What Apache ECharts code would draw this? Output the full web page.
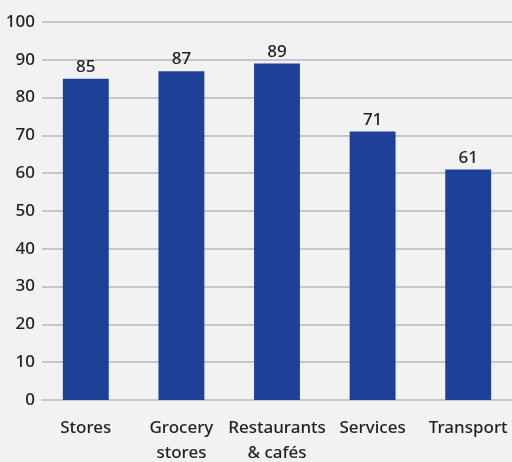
<!DOCTYPE html>
<html><head><meta charset="utf-8">
<script src="https://cdn.jsdelivr.net/npm/echarts@6/dist/echarts.min.js"></script>
<style>html,body{margin:0;padding:0;background:#f2f2f2;}#c{width:512px;height:462px;}</style>
</head><body><div id="c"></div>
<script>
const categories = ["Stores", "Grocery\nstores", "Restaurants\n& cafés", "Services", "Transport"];
const values = [85, 87, 89, 71, 61];
const yTicks = [0, 10, 20, 30, 40, 50, 60, 70, 80, 90, 100];

const chart = echarts.init(document.getElementById('c'), null, {renderer: 'canvas'});
const font = "'Noto Sans', sans-serif";
const yMin = yTicks[0], yMax = yTicks[yTicks.length - 1];
chart.setOption({
  backgroundColor: '#f2f2f2',
  animation: false,
  grid: [
    {left: 42, right: 0, top: 22, bottom: 62, containLabel: false, outerBoundsMode: 'none'},
    {left: 38, right: -4, top: 22, bottom: 62, containLabel: false, outerBoundsMode: 'none'}
  ],
  xAxis: [{
    gridIndex: 0, type: 'category', data: categories,
    axisLine: {lineStyle: {color: '#c6c6c6', width: 2}},
    axisTick: {show: false}, axisLabel: {show: false}
  }, {
    gridIndex: 1, type: 'category', data: categories,
    axisLine: {show: false}, axisTick: {show: false},
    axisLabel: {color: '#222', fontSize: 17, fontWeight: 500, fontFamily: font, lineHeight: 25, margin: 16, interval: 0}
  }],
  yAxis: [{
    gridIndex: 0, type: 'value', min: yMin, max: yMax, interval: 10,
    axisLine: {show: false}, axisTick: {show: false},
    splitLine: {lineStyle: {color: '#c6c6c6', width: 2}},
    axisLabel: {color: '#222', fontSize: 17, fontWeight: 500, fontFamily: font, margin: 7}
  }, {
    gridIndex: 1, type: 'value', min: yMin, max: yMax, interval: 10, show: false,
    splitLine: {show: false}
  }],
  series: [{
    type: 'bar', data: values, barWidth: '48%', xAxisIndex: 1, yAxisIndex: 1,
    itemStyle: {color: '#1f4097'},
    label: {show: true, position: 'top', color: '#222', fontSize: 17, fontWeight: 500, fontFamily: font, distance: 3}
  }]
});
</script></body></html>
